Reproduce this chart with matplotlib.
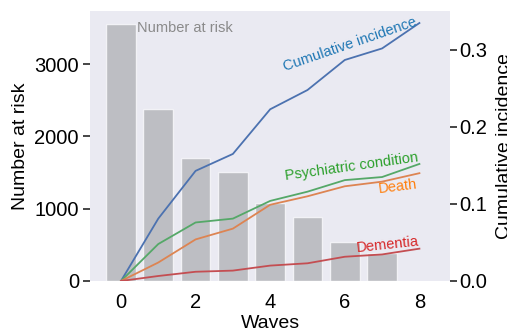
import numpy as np
import matplotlib
matplotlib.use("Agg")
import matplotlib.pyplot as plt

plt.rcParams['font.family'] = ['Liberation Sans', 'DejaVu Sans']

# data
waves = [0, 1, 2, 3, 4, 5, 6, 7, 8]
bar_waves = [0, 1, 2, 3, 4, 5, 6, 7]
at_risk = [3555, 2380, 1705, 1505, 1085, 880, 540, 390]

cum_incidence = [0.0, 0.081, 0.143, 0.165, 0.223, 0.248, 0.287, 0.302, 0.335]
psychiatric = [0.0, 0.048, 0.076, 0.081, 0.104, 0.116, 0.131, 0.135, 0.152]
death = [0.0, 0.024, 0.054, 0.068, 0.099, 0.110, 0.123, 0.129, 0.140]
dementia = [0.0, 0.0065, 0.012, 0.0135, 0.020, 0.023, 0.0315, 0.0345, 0.042]

fig = plt.figure(figsize=(5.07, 3.32), dpi=100)
ax = fig.add_axes([90/507, 1-281/332, 360/507, 270/332])
ax.set_facecolor('#EAEAF2')
for s in ax.spines.values():
    s.set_visible(False)

ax.bar(bar_waves, at_risk, width=0.8, color='#BDBEC3', edgecolor='#f2f2f6', linewidth=1)
ax.text(0.42, 3500, 'Number at risk', color='#8a8a8a', fontsize=10.5, ha='left', va='center')

ax.set_xlim(-0.83, 8.82)
ax.set_ylim(0, 3734)
ax.set_xticks([0, 2, 4, 6, 8])
ax.set_yticks([0, 1000, 2000, 3000])
ax.tick_params(axis='x', length=0, pad=8.5, labelsize=14.5)
ax.tick_params(axis='y', length=5, width=1.2, pad=3, labelsize=14.5, color='#262626')
ax.set_xlabel('Waves', fontsize=14, labelpad=2)
ax.set_ylabel('Number at risk', fontsize=14)

ax2 = ax.twinx()
ax2.patch.set_visible(False)
for s in ax2.spines.values():
    s.set_visible(False)
ax2.plot(waves, cum_incidence, color='#4C72B0', lw=1.3)
ax2.plot(waves, psychiatric, color='#55A868', lw=1.3)
ax2.plot(waves, death, color='#DD8452', lw=1.3)
ax2.plot(waves, dementia, color='#C44E52', lw=1.3)

ax2.text(6.14, 0.307, 'Cumulative incidence', color='#1f77b4', fontsize=10.5,
         rotation=19, ha='center', va='center')
ax2.text(6.17, 0.148, 'Psychiatric condition', color='#2ca02c', fontsize=10.5,
         rotation=8, ha='center', va='center')
ax2.text(7.43, 0.1227, 'Death', color='#ff7f0e', fontsize=10.5,
         rotation=7, ha='center', va='center')
ax2.text(7.14, 0.0468, 'Dementia', color='#d62728', fontsize=10.5,
         rotation=6, ha='center', va='center')

ax2.set_ylim(0, 0.3506)
ax2.set_yticks([0.0, 0.1, 0.2, 0.3])
ax2.set_yticklabels(['0.0', '0.1', '0.2', '0.3'])
ax2.tick_params(axis='y', length=5, width=1.2, pad=2, labelsize=14.5, color='#262626')
ax2.set_ylabel('Cumulative incidence', fontsize=14, labelpad=6)

fig.savefig('out.png', dpi=100)
